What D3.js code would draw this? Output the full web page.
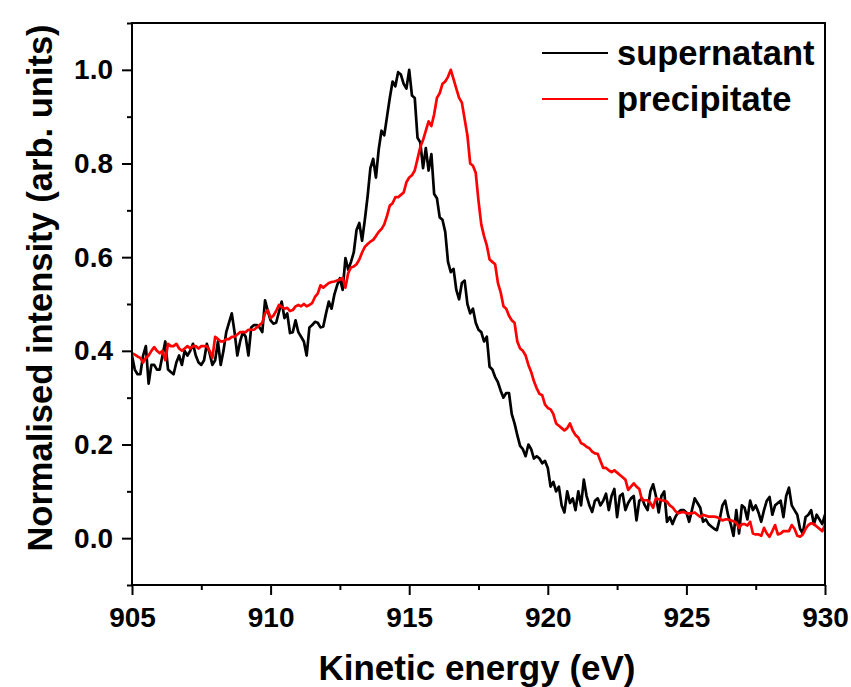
<!DOCTYPE html>
<html>
<head>
<meta charset="utf-8">
<script src="https://cdn.jsdelivr.net/npm/d3@7"></script>
<style>
  body { margin: 0; background: #fff; }
  text { font-family: "Liberation Sans", Arial, sans-serif; font-weight: bold; fill: #000; }
</style>
</head>
<body>
<script>
// energy grid of the spectra (eV)
const eStart = 905;
const eStep = 0.1;

// supernatant, normalised intensity, 905.0 ... 930.0 eV
const supernatant = [
  0.39, 0.36, 0.35, 0.35, 0.39, 0.41, 0.33, 0.37, 0.37, 0.36,
  0.36, 0.39, 0.42, 0.36, 0.355, 0.35, 0.375, 0.39, 0.37, 0.40,
  0.39, 0.40, 0.415, 0.39, 0.375, 0.37, 0.38, 0.415, 0.395, 0.37,
  0.38, 0.42, 0.37, 0.40, 0.44, 0.46, 0.48, 0.44, 0.39, 0.42,
  0.44, 0.43, 0.39, 0.45, 0.455, 0.455, 0.45, 0.44, 0.508, 0.485,
  0.465, 0.458, 0.46, 0.483, 0.505, 0.47, 0.48, 0.438, 0.44, 0.465,
  0.44, 0.43, 0.42, 0.39, 0.45, 0.455, 0.462, 0.46, 0.45, 0.452,
  0.48, 0.505, 0.49, 0.52, 0.54, 0.555, 0.53, 0.598, 0.573, 0.59,
  0.61, 0.658, 0.673, 0.635, 0.68, 0.73, 0.79, 0.81, 0.77, 0.83,
  0.87, 0.86, 0.90, 0.94, 0.975, 0.965, 0.995, 0.99, 0.97, 0.96,
  1.0, 0.945, 0.94, 0.855, 0.845, 0.79, 0.833, 0.785, 0.82, 0.735,
  0.726, 0.685, 0.68, 0.654, 0.59, 0.568, 0.575, 0.53, 0.51, 0.545,
  0.55, 0.50, 0.48, 0.49, 0.46, 0.445, 0.44, 0.42, 0.43, 0.366,
  0.36, 0.344, 0.333, 0.315, 0.30, 0.31, 0.31, 0.265, 0.245, 0.22,
  0.197, 0.19, 0.175, 0.20, 0.19, 0.17, 0.175, 0.17, 0.16, 0.165,
  0.15, 0.11, 0.12, 0.10, 0.11, 0.07, 0.055, 0.10, 0.075, 0.085,
  0.06, 0.10, 0.07, 0.125, 0.09, 0.07, 0.056, 0.08, 0.085, 0.07,
  0.08, 0.095, 0.06, 0.09, 0.105, 0.045, 0.09, 0.095, 0.06, 0.075,
  0.085, 0.09, 0.038, 0.08, 0.085, 0.07, 0.06, 0.10, 0.115, 0.09,
  0.055, 0.09, 0.10, 0.035, 0.045, 0.03, 0.045, 0.055, 0.06, 0.06,
  0.055, 0.035, 0.06, 0.085, 0.075, 0.065, 0.035, 0.04, 0.03, 0.025,
  0.02, 0.017, 0.04, 0.07, 0.08, 0.05, 0.03, 0.005, 0.06, 0.01,
  0.07, 0.065, 0.04, 0.08, 0.06, 0.07, 0.055, 0.035, 0.06, 0.08,
  0.088, 0.05, 0.07, 0.075, 0.08, 0.045, 0.09, 0.108, 0.07, 0.06,
  0.05, 0.02, 0.01, 0.045, 0.05, 0.06, 0.03, 0.05, 0.04, 0.03,
  0.05
];

// precipitate, normalised intensity, 905.0 ... 930.0 eV
const precipitate = [
  0.395, 0.392, 0.388, 0.385, 0.375, 0.385, 0.39, 0.40, 0.408, 0.40,
  0.395, 0.40, 0.38, 0.415, 0.41, 0.41, 0.415, 0.405, 0.40, 0.405,
  0.41, 0.405, 0.41, 0.41, 0.405, 0.41, 0.41, 0.41, 0.40, 0.385,
  0.43, 0.425, 0.42, 0.42, 0.425, 0.425, 0.43, 0.43, 0.435, 0.44,
  0.44, 0.44, 0.445, 0.445, 0.445, 0.45, 0.455, 0.46, 0.48, 0.487,
  0.47, 0.475, 0.485, 0.498, 0.494, 0.49, 0.492, 0.485, 0.487, 0.495,
  0.498, 0.495, 0.50, 0.495, 0.498, 0.502, 0.515, 0.522, 0.54, 0.535,
  0.54, 0.545, 0.547, 0.548, 0.55, 0.552, 0.556, 0.535, 0.566, 0.578,
  0.58, 0.585, 0.595, 0.61, 0.622, 0.628, 0.633, 0.637, 0.645, 0.654,
  0.66, 0.67, 0.688, 0.71, 0.715, 0.728, 0.728, 0.733, 0.738, 0.76,
  0.77, 0.775, 0.785, 0.81, 0.835, 0.85, 0.87, 0.89, 0.88, 0.905,
  0.94, 0.95, 0.97, 0.975, 0.985, 1.0, 0.98, 0.96, 0.94, 0.93,
  0.895, 0.86, 0.80, 0.795, 0.78, 0.72, 0.67, 0.645, 0.625, 0.595,
  0.59, 0.585, 0.545, 0.525, 0.495, 0.49, 0.475, 0.465, 0.46, 0.42,
  0.405, 0.40, 0.39, 0.37, 0.355, 0.335, 0.32, 0.308, 0.305, 0.285,
  0.278, 0.275, 0.265, 0.245, 0.24, 0.235, 0.23, 0.235, 0.245, 0.23,
  0.22, 0.215, 0.203, 0.20, 0.195, 0.192, 0.185, 0.181, 0.18, 0.165,
  0.15, 0.15, 0.145, 0.141, 0.145, 0.14, 0.135, 0.13, 0.125, 0.103,
  0.11, 0.117, 0.11, 0.105, 0.081, 0.081, 0.081, 0.075, 0.065, 0.085,
  0.083, 0.081, 0.08, 0.078, 0.07, 0.066, 0.058, 0.053, 0.055, 0.056,
  0.053, 0.053, 0.053, 0.055, 0.05, 0.045, 0.05, 0.048, 0.046, 0.046,
  0.046, 0.045, 0.042, 0.038, 0.04, 0.04, 0.038, 0.036, 0.033, 0.022,
  0.03, 0.03, 0.027, 0.035, 0.01, 0.008, 0.008, 0.005, 0.022, 0.01,
  0.003, 0.015, 0.028, 0.008, 0.01, 0.015, 0.015, 0.015, 0.028, 0.02,
  0.005, 0.003, 0.008, 0.02, 0.028, 0.032, 0.03, 0.025, 0.02, 0.015,
  0.028
];

// tick values
const xMajor = [905, 910, 915, 920, 925, 930];
const xMinor = [907.5, 912.5, 917.5, 922.5, 927.5];
const yMajor = [0.0, 0.2, 0.4, 0.6, 0.8, 1.0];
const yMinor = [-0.1, 0.1, 0.3, 0.5, 0.7, 0.9, 1.1];

const seriesNames = ['supernatant', 'precipitate'];
const seriesColors = ['#000000', '#ff0000'];

const W = 851;
const H = 687;
const margin = { top: 23, right: 26, bottom: 102, left: 132 };
const w = W - margin.left - margin.right;
const h = H - margin.top - margin.bottom;

const svg = d3.select('body').append('svg')
  .attr('width', W)
  .attr('height', H);

const xScale = d3.scaleLinear().domain([905, 930]).range([0, w]);
const yScale = d3.scaleLinear().domain([-0.1, 1.1]).range([h, 0]);

const g = svg.append('g').attr('transform', `translate(${margin.left},${margin.top})`);

// clip the spectra to the frame
g.append('clipPath').attr('id', 'clip')
  .append('rect').attr('width', w).attr('height', h);

const line = d3.line()
  .x((d, i) => xScale(eStart + i * eStep))
  .y((d) => yScale(d));

[supernatant, precipitate].forEach((data, k) => {
  g.append('path')
    .datum(data)
    .attr('clip-path', 'url(#clip)')
    .attr('fill', 'none')
    .attr('stroke', seriesColors[k])
    .attr('stroke-width', 2.7)
    .attr('stroke-linejoin', 'round')
    .attr('d', line);
});

//axes: major and minor ticks, pointing outwards
const styleAxis = (sel) => {
  sel.select('.domain').remove();
  sel.selectAll('.tick line').attr('stroke', '#000').attr('stroke-width', 2);
  sel.selectAll('.tick text')
    .style('font-family', '"Liberation Sans", Arial, sans-serif')
    .style('font-weight', 'bold')
    .style('font-size', '28px')
    .attr('fill', '#000');
};

g.append('g').attr('transform', `translate(0,${h})`)
  .call(d3.axisBottom(xScale).tickValues(xMajor).tickSize(10).tickPadding(12).tickFormat(d3.format('d')))
  .call(styleAxis);
g.append('g').attr('transform', `translate(0,${h})`)
  .call(d3.axisBottom(xScale).tickValues(xMinor).tickSize(5).tickFormat(''))
  .call(styleAxis);

g.append('g')
  .call(d3.axisLeft(yScale).tickValues(yMajor).tickSize(10).tickPadding(9).tickFormat(d3.format('.1f')))
  .call(styleAxis);
g.append('g')
  .call(d3.axisLeft(yScale).tickValues(yMinor).tickSize(5).tickFormat(''))
  .call(styleAxis);

// frame
g.append('rect')
  .attr('width', w)
  .attr('height', h)
  .attr('fill', 'none')
  .attr('stroke', '#000')
  .attr('stroke-width', 2);

// axis titles
svg.append('text')
  .attr('x', 477)
  .attr('y', 680)
  .attr('text-anchor', 'middle')
  .style('font-size', '35px')
  .text('Kinetic energy (eV)');

svg.append('text')
  .attr('transform', 'translate(52,288) rotate(-90)')
  .attr('text-anchor', 'middle')
  .style('font-size', '34.5px')
  .text('Normalised intensity (arb. units)');

// legend
const legend = svg.append('g').attr('transform', 'translate(542,53)');
seriesNames.forEach((name, k) => {
  const row = legend.append('g').attr('transform', `translate(0,${k * 46})`);
  row.append('line')
    .attr('x1', 0).attr('x2', 66)
    .attr('stroke', seriesColors[k])
    .attr('stroke-width', 2.2);
  row.append('text')
    .attr('x', 75)
    .attr('y', 12)
    .style('font-size', '34.5px')
    .text(name);
});
</script>
</body>
</html>
